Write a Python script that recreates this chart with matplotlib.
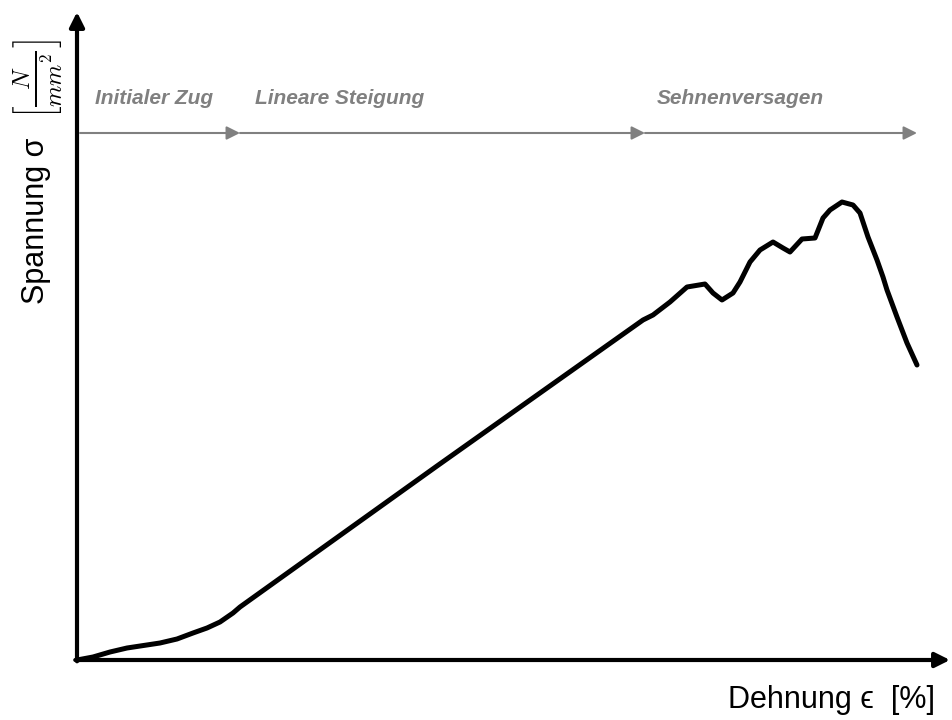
import matplotlib
matplotlib.use("Agg")
import matplotlib.pyplot as plt

matplotlib.rcParams["font.family"] = ["Liberation Sans", "DejaVu Sans"]
matplotlib.rcParams["mathtext.fontset"] = "cm"

# stress-strain curve (arbitrary units)
strain = [0, 1.6, 3.3, 5.0, 8.3, 10.0, 11.6, 13.0, 14.3, 15.6, 16.3,
          36.0, 56.6, 57.6, 59.3, 61.0, 62.8, 63.6, 64.5, 65.6, 66.3, 67.3,
          68.3, 69.6, 70.6, 71.3, 72.5, 73.8, 74.6, 75.3, 76.5, 77.6, 78.3,
          79.1, 80.0, 80.6, 81.0, 82.0, 83.0, 84.0]
stress = [0, 0.3, 0.8, 1.2, 1.7, 2.1, 2.7, 3.2, 3.8, 4.7, 5.3,
          19.4, 34.0, 34.5, 35.8, 37.3, 37.6, 36.7, 36.0, 36.7, 37.8, 39.8,
          41.0, 41.8, 41.2, 40.8, 42.1, 42.2, 44.2, 45.0, 45.8, 45.5, 44.7,
          42.3, 40.0, 38.3, 37.0, 34.3, 31.7, 29.5]

# phases shown with grey arrows on top
phase_edges = [0.3, 16.3, 56.8, 84.0]
phase_labels = ["Initialer Zug", "Lineare Steigung", "Sehnenversagen"]
phase_label_x = [1.8, 17.8, 58.0]

fig = plt.figure(figsize=(9.53, 7.2), dpi=100)
ax = fig.add_axes([77 / 953, 60 / 720, 873 / 953, 648 / 720])
ax.set_xlim(0, 87.3)
ax.set_ylim(0, 64.8)
for s in ax.spines.values():
    s.set_visible(False)
ax.set_xticks([])
ax.set_yticks([])

ax.plot(strain, stress, color="black", lw=3.6, solid_joinstyle="round",
        solid_capstyle="round", clip_on=False)

# axes with arrows
arrow = dict(arrowstyle="-|>", color="black", lw=3, mutation_scale=22,
             shrinkA=0, shrinkB=0)
ax.annotate("", xy=(1, 0), xytext=(-0.002, 0), xycoords="axes fraction",
            arrowprops=arrow)
ax.annotate("", xy=(0, 1), xytext=(0, -0.002), xycoords="axes fraction",
            arrowprops=arrow)

# phase arrows
grey = "#808080"
for i in range(len(phase_labels)):
    ax.annotate("", xy=(phase_edges[i + 1], 52.7), xytext=(phase_edges[i], 52.7),
                arrowprops=dict(arrowstyle="-|>", color=grey, lw=1.5,
                                mutation_scale=20, shrinkA=0, shrinkB=0))
    ax.text(phase_label_x[i], 56.2, phase_labels[i], color=grey, fontsize=15,
            fontweight="bold", fontstyle="italic", ha="left", va="center")

fig.text(832 / 953, 1 - 700 / 720, "Dehnung \u03f5  [%]", fontsize=22,
         ha="center", va="center")
fig.text(36 / 953, 1 - 221 / 720, "Spannung \u03c3", fontsize=22,
         rotation=90, ha="center", va="center")
fig.text(38 / 953, 1 - 79 / 720, r"$\left[\frac{N}{mm^2}\right]$", fontsize=25,
         rotation=90, ha="center", va="center")

fig.savefig("out.png", dpi=100)
